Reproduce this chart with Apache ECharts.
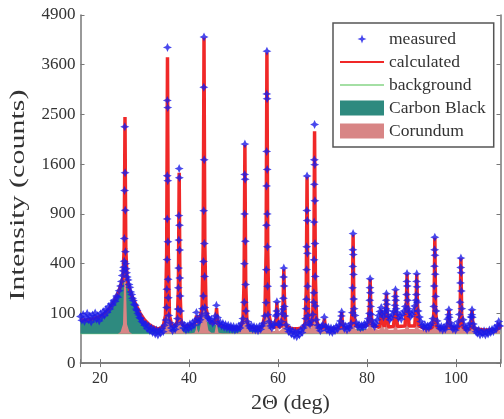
<!DOCTYPE html>
<html><head><meta charset="utf-8">
<script src="https://cdn.jsdelivr.net/npm/echarts@6/dist/echarts.min.js"></script>
<style>html,body{margin:0;padding:0;background:#fff}#c{width:504px;height:419px}</style>
</head><body><div id="c"></div>
<script>
// ---- data (2Θ in deg, intensity in counts) ----
const xTicks = [20, 40, 60, 80, 100];
const yTickCounts = [0, 100, 400, 900, 1600, 2500, 3600, 4900];
const backgroundLevel = 35;
const background = [[15.6, 35], [110, 35]];

// Carbon Black contribution above background
const carbonBlack = [[15.6,40],[17,41],[18.5,45],[20,53],[21,65],[22,85],[23,115],[24,160],[24.8,215],[25.5,255],[26.2,217],[27,155],[28,105],[29,65],[30,40],[31,25],[32,17],[33,12],[34,10],[36,11],[38,15],[40,20],[41.5,25],[42.5,31],[43.5,35],[44.5,33],[45.5,27],[47,20],[49,15],[51,12],[54,9],[58,7],[65,5],[72,5],[76,6],[77.5,11],[79,13],[81,11],[83,6],[85,5],[95,5],[110,4]];

// Corundum contribution above background
const corundum = [[15.6,0],[24.0,0],
[24.6,4],[25.15,26],[25.42,259],[25.53,1188],[25.6,2160],[25.67,1188],[25.78,259],[26.05,26],[26.6,4],
[27.2,0],[33.5,0],
[34.15,7],[34.7,45],[34.97,448],[35.08,2054],[35.15,3734],[35.22,2054],[35.33,448],[35.6,45],[36.15,7],
[36.78,3],[37.33,17],[37.6,170],[37.71,778],[37.78,1415],[37.85,778],[37.96,170],[38.23,17],[38.78,3],
[39.5,1],[40.5,1],
[41.23,2],[41.53,11],[41.68,30],[41.83,11],[42.13,2],
[42.36,8],[42.91,51],[43.18,505],[43.29,2316],[43.36,4211],[43.43,2316],[43.54,505],[43.81,51],[44.36,8],
[45.0,2],[45.73,2],[46.03,21],[46.18,61],[46.33,21],[46.63,2],
[47.5,1],[50.5,1],
[51.55,4],[52.1,23],[52.37,225],[52.48,1033],[52.55,1879],[52.62,1033],[52.73,225],[53.0,23],[53.55,4],
[55,3],[56,5],
[56.5,8],[57.05,46],[57.32,463],[57.43,2121],[57.5,3857],[57.57,2121],[57.68,463],[57.95,46],[58.5,8],
[59.29,6],[59.59,36],[59.74,102],[59.89,36],[60.19,6],
[60.85,12],[61.15,110],[61.3,307],[61.45,110],[61.75,12],
[63,6],[64.5,6],
[65.52,8],[66.07,20],[66.34,163],[66.45,747],[66.52,1358],[66.59,747],[66.7,163],[66.97,20],[67.4,14],
[67.76,30],[68.03,259],[68.14,1170],[68.21,2128],[68.28,1170],[68.39,259],[68.66,30],[69.21,8],
[69.97,7],[70.27,18],[70.42,38],[70.57,18],[70.87,7],
[72,7],
[73.85,8],[74.15,26],[74.3,63],[74.45,26],[74.75,8],
[75.87,7],[76.42,14],[76.69,80],[76.8,345],[76.87,621],[76.94,345],[77.05,80],[77.32,14],[77.87,7],
[79,7],
[80.25,14],[80.55,89],[80.7,240],[80.85,89],[81.15,14],
[82.76,10],[83.06,30],[83.21,72],[83.36,30],
[83.91,10],[84.21,56],[84.36,150],[84.51,56],[84.81,10],
[85.95,10],[86.25,63],[86.4,170],[86.55,63],[86.85,10],
[88.54,12],[88.84,100],[88.99,278],[89.14,100],[89.44,12],
[90.73,12],[91.03,100],[91.18,276],[91.33,100],[91.63,12],
[93,7],
[94.24,8],[94.79,14],[95.06,77],[95.17,331],[95.24,595],[95.31,331],[95.42,77],[95.69,14],[96.24,8],
[97.95,8],[98.25,30],[98.4,73],[98.55,30],[98.85,8],
[100.1,7],[100.65,12],[100.92,55],[101.03,226],[101.1,405],[101.17,226],[101.28,55],[101.55,12],[102.1,7],
[103.15,7],[103.45,29],[103.6,73],[103.75,29],[104.05,7],
[106,5],[108,5],
[109.15,5],[109.45,12],[109.6,25],[109.75,12],[110,7]];

// Calculated total pattern (counts)
const calculated = [[15.6,75],[17,76],[18.5,80],[20,88],[21,100],[22,120],[23,150],[24,195],
[24.6,240],[25.15,296],[25.42,544],[25.53,1478],[25.6,2450],[25.67,1471],[25.78,534],[26.05,286],[26.6,225],
[27,190],[28,140],[29,100],[30,75],[31,60],[32,52],[33,47],
[34.15,53],[34.7,91],[34.97,494],[35.08,2100],[35.15,3780],[35.22,2100],[35.33,494],[35.6,91],[36.15,55],
[36.78,55],[37.33,68],[37.6,220],[37.71,828],[37.78,1465],[37.85,828],[37.96,220],[38.23,68],[38.78,55],
[39.5,56],[40.5,59],
[41.23,62],[41.53,73],[41.68,92],[41.83,73],[42.13,66],
[42.36,75],[42.91,121],[43.18,576],[43.29,2387],[43.36,4280],[43.43,2387],[43.54,576],[43.81,122],[44.36,78],
[45.0,67],[45.73,64],[46.03,82],[46.18,122],[46.33,82],[46.63,60],
[47.5,56],[49,52],[50.5,50],
[51.55,52],[52.1,71],[52.37,273],[52.48,1081],[52.55,1925],[52.62,1081],[52.73,273],[53.0,71],[53.55,51],
[55,49],[56,48],
[56.5,56],[57.05,94],[57.32,511],[57.43,2169],[57.5,3900],[57.57,2169],[57.68,511],[57.95,94],[58.5,56],
[59.29,51],[59.59,84],[59.74,150],[59.89,84],[60.19,51],
[60.85,57],[61.15,155],[61.3,355],[61.45,155],[61.75,57],
[63,48],[64.5,48],
[65.52,51],[66.07,64],[66.34,211],[66.45,795],[66.52,1405],[66.59,795],[66.7,211],[66.97,64],[67.4,56],
[67.76,74],[68.03,303],[68.14,1218],[68.21,2175],[68.28,1218],[68.39,303],[68.66,74],[69.21,52],
[69.97,49],[70.27,60],[70.42,80],[70.57,60],[70.87,49],
[72,48],
[73.85,50],[74.15,68],[74.3,105],[74.45,68],[74.75,50],
[75.87,50],[76.42,57],[76.69,124],[76.8,389],[76.87,665],[76.94,389],[77.05,124],[77.32,58],[77.87,54],
[79,54],
[80.25,60],[80.55,133],[80.7,285],[80.85,133],[81.15,58],
[82.76,52],[83.06,72],[83.21,115],[83.36,72],
[83.91,53],[84.21,100],[84.36,195],[84.51,100],[84.81,53],
[85.95,54],[86.25,107],[86.4,215],[86.55,107],[86.85,54],
[88.54,56],[88.84,144],[88.99,322],[89.14,144],[89.44,56],
[90.73,56],[91.03,143],[91.18,320],[91.33,143],[91.63,56],
[93,48],
[94.24,48],[94.79,54],[95.06,117],[95.17,371],[95.24,635],[95.31,371],[95.42,117],[95.69,54],[96.24,48],
[97.95,49],[98.25,71],[98.4,115],[98.55,71],[98.85,49],
[100.1,48],[100.65,52],[100.92,95],[101.03,266],[101.1,445],[101.17,266],[101.28,95],[101.55,52],[102.1,47],
[103.15,48],[103.45,70],[103.6,115],[103.75,70],[104.05,48],
[106,45],[108,44],
[109.15,45],[109.45,52],[109.6,66],[109.75,52],[110,47]];

// Measured points (counts)
const measured = [
[15.6,88],[15.9,74],[16.2,96],[16.5,70],[16.8,84],[17.1,100],[17.4,76],[17.7,90],[18.0,68],[18.3,94],[18.6,82],[18.9,102],[19.2,78],[19.5,92],[19.8,72],[20.1,98],[20.4,86],[20.7,108],[21.0,92],[21.3,116],[21.6,104],[21.9,130],[22.2,118],[22.5,142],[22.8,136],[23.1,160],[23.4,154],[23.7,182],[24.0,176],[24.3,212],[24.6,240],[24.8,270],[25.0,310],[25.2,345],[25.3,372],
[25.55,2260],[25.62,1465],[25.5,1205],[25.66,945],[25.46,628],[25.7,502],[25.42,420],[25.76,400],[25.85,360],[25.95,330],[26.1,300],
[26.3,280],[26.5,250],[26.7,232],[26.9,205],[27.1,190],[27.3,170],[27.5,158],[27.7,140],[27.9,135],[28.1,118],[28.3,112],[28.5,100],[28.7,94],[28.9,84],[29.1,80],[29.4,70],[29.7,66],[30.0,58],[30.3,62],[30.6,48],[30.9,55],[31.2,42],[31.5,50],[31.8,38],[32.1,46],[32.4,34],[32.7,44],[33.0,32],[33.3,42],[33.6,36],[33.9,48],[34.2,40],[34.5,58],[34.8,75],
[35.15,4030],[35.12,2790],[35.2,2640],[35.1,1420],[35.22,1346],[35.08,841],[35.25,595],[35.05,433],[35.3,284],[35.0,221],[35.35,173],[34.95,125],[35.45,92],
[35.7,66],[36.0,50],[36.3,42],[36.6,54],[36.9,46],[37.2,60],[37.4,80],
[37.78,1530],[37.82,1390],[37.72,880],[37.85,768],[37.7,612],[37.88,517],[37.65,365],[37.92,293],[37.6,229],[38.0,182],[37.5,118],[38.1,110],
[38.4,66],[38.7,50],[39.0,58],[39.3,44],[39.6,56],[39.9,48],[40.2,62],[40.5,52],[40.8,66],[41.1,58],[41.4,74],[41.65,104],[41.9,80],[42.2,68],[42.5,76],[42.8,92],[43.0,120],
[43.36,4300],[43.32,3077],[43.4,1673],[43.3,940],[43.44,578],[43.25,417],[43.5,304],[43.2,182],[43.55,125],
[43.8,100],[44.1,86],[44.4,80],[44.7,72],[45.0,78],[45.3,64],[45.6,70],[45.9,90],[46.15,135],[46.4,84],[46.7,62],[47.0,68],[47.3,56],[47.6,64],[47.9,52],[48.2,60],[48.5,50],[48.8,58],[49.1,48],[49.4,56],[49.7,46],[50.0,54],[50.3,44],[50.6,52],[50.9,46],[51.2,56],[51.5,50],[51.8,64],[52.1,80],
[52.55,1940],[52.5,1440],[52.6,1366],[52.48,900],[52.65,600],[52.45,400],[52.7,250],[52.4,150],[52.8,110],
[53.1,70],[53.4,56],[53.7,50],[54.0,58],[54.3,46],[54.6,54],[54.9,44],[55.2,52],[55.5,42],[55.8,54],[56.1,46],[56.4,56],[56.7,64],[57.0,90],
[57.5,3935],[57.46,2930],[57.54,2825],[57.44,1812],[57.56,1517],[57.42,1270],[57.58,900],[57.4,768],[57.62,547],[57.36,353],[57.66,239],[57.3,148],[57.75,95],
[58.0,70],[58.3,56],[58.6,50],[58.9,58],[59.2,64],[59.5,90],[59.74,152],[59.7,110],[59.85,96],[60.1,62],[60.4,58],[60.7,70],[60.95,100],
[61.3,365],[61.25,300],[61.36,240],[61.2,170],[61.42,130],[61.1,118],[61.55,90],
[61.8,60],[62.1,48],[62.4,40],[62.7,46],[63.0,34],[63.3,42],[63.6,30],[63.9,40],[64.2,28],[64.5,38],[64.8,32],[65.1,44],[65.4,38],[65.7,50],[66.0,58],[66.2,80],
[66.52,1415],[66.48,941],[66.56,823],[66.45,547],[66.6,487],[66.42,353],[66.65,239],[66.38,165],[66.7,91],[66.3,120],
[66.9,66],[67.2,60],[67.5,72],[67.8,96],
[68.21,2303],[68.17,1673],[68.25,1592],[68.15,1292],[68.28,1066],[68.12,804],[68.3,578],[68.1,431],[68.35,304],[68.05,200],[68.4,132],[68.0,150],
[68.6,76],[68.9,58],[69.2,50],[69.5,42],[69.8,54],[70.1,60],[70.4,85],[70.7,54],[71.0,44],[71.3,52],[71.6,40],[71.9,50],[72.2,38],[72.5,48],[72.8,42],[73.1,54],[73.4,46],[73.7,58],[74.0,72],[74.3,106],[74.25,90],[74.6,62],[74.9,48],[75.2,56],[75.5,44],[75.8,54],[76.1,50],[76.4,64],
[76.87,678],[76.83,520],[76.92,476],[76.8,378],[76.95,318],[76.75,229],[77.0,166],[76.7,103],[77.1,120],
[77.3,92],[77.6,66],[77.9,54],[78.2,60],[78.5,50],[78.8,58],[79.1,52],[79.4,62],[79.7,56],[80.0,66],[80.3,80],
[80.7,288],[80.66,230],[80.75,200],[80.62,160],[80.8,130],[80.55,100],[80.9,96],
[81.1,72],[81.4,60],[81.7,54],[82.0,64],[82.3,76],[82.6,92],[82.9,108],[83.2,125],[83.4,98],[83.7,86],[84.0,104],
[84.36,195],[84.32,160],[84.42,140],[84.28,120],[84.5,112],
[84.8,90],[85.1,76],[85.4,84],[85.7,96],[86.0,108],
[86.4,218],[86.36,180],[86.46,160],[86.3,135],[86.55,120],
[86.8,104],[87.1,82],[87.4,92],[87.7,78],[88.0,96],[88.3,110],[88.6,130],
[88.99,325],[88.95,270],[89.04,240],[88.9,190],[89.1,160],[89.25,120],
[89.5,104],[89.8,88],[90.1,96],[90.4,110],[90.7,132],
[91.18,322],[91.14,270],[91.24,235],[91.1,190],[91.3,150],[91.0,160],
[91.5,110],[91.8,86],[92.1,70],[92.4,58],[92.7,52],[93.0,60],[93.3,48],[93.6,56],[93.9,50],[94.2,58],[94.5,64],[94.8,80],
[95.24,640],[95.2,520],[95.28,470],[95.16,380],[95.32,320],[95.1,240],[95.4,180],[95.0,130],[95.55,110],
[95.8,72],[96.1,56],[96.4,48],[96.7,54],[97.0,44],[97.3,52],[97.6,46],[97.9,60],[98.1,78],
[98.4,115],[98.36,95],[98.46,85],
[98.7,66],[99.0,54],[99.3,46],[99.6,56],[99.9,44],[100.2,54],[100.5,70],[100.75,96],
[101.1,446],[101.06,370],[101.15,330],[101.0,260],[101.2,210],[100.9,150],[101.3,120],
[101.6,76],[101.9,58],[102.2,50],[102.5,44],[102.8,54],[103.1,64],[103.35,86],
[103.6,115],[103.55,95],[103.66,85],
[103.9,62],[104.2,50],[104.5,40],[104.8,36],[105.1,44],[105.4,32],[105.7,40],[106.0,34],[106.3,42],[106.6,32],[106.9,40],[107.2,34],[107.5,44],[107.8,38],[108.1,46],[108.4,40],[108.7,50],[109.0,46],[109.3,58],[109.6,70],[109.9,56]];

// ---- chart ----
const FONT = '"Liberation Serif", "Times New Roman", serif';
const C_MEAS = '#1c1ce8', C_CALC = '#f02828', C_BG = '#86d486', C_CB = '#2e8a7f', C_COR = '#d88585';
const sq = v => Math.sqrt(v);
const toSq = arr => arr.map(p => [p[0], sq(p[1])]);
const onBg = arr => arr.map(p => [p[0], sq(backgroundLevel + p[1])]);
const star = 'path://M0,-5L1.6,-1.6L5,0L1.6,1.6L0,5L-1.6,1.6L-5,0L-1.6,-1.6Z';
const starIcon = 'path://M-22,-7.5M22,7.5M0,-4.5L1.2,-1.2L4.5,0L1.2,1.2L0,4.5L-1.2,1.2L-4.5,0L-1.2,-1.2Z';
const lineIcon = 'path://M0,0M44,15M0,6.4L44,6.4L44,8.6L0,8.6Z';
const thinIcon = 'path://M0,0M44,15M0,6.8L44,6.8L44,8.2L0,8.2Z';
const axisCol = '#777';
const ySqTicks = yTickCounts.map(sq);

const chart = echarts.init(document.getElementById('c'), null, {renderer: 'canvas'});
chart.setOption({
  animation: false,
  backgroundColor: '#fff',
  grid: {left: 80.5, right: 3.5, top: 15, bottom: 51, containLabel: false},
  xAxis: [{
    type: 'value', min: 15.6, max: 110, splitNumber: 5,
    name: '2Θ (deg)', nameLocation: 'middle', nameGap: 27,
    nameTextStyle: {fontFamily: FONT, fontSize: 22, color: '#333'},
    axisLine: {lineStyle: {color: axisCol, width: 1.5}},
    axisTick: {inside: true, length: 4, lineStyle: {color: axisCol}},
    axisLabel: {fontFamily: FONT, fontSize: 16, color: '#333', margin: 8,
      formatter: v => xTicks.indexOf(Math.round(v * 1000) / 1000) >= 0 ? String(v) : ''},
    splitLine: {show: false}
  }, {
    type: 'value', position: 'top', min: 15.6, max: 110, splitNumber: 5,
    axisLine: {lineStyle: {color: axisCol, width: 1.5}},
    axisTick: {inside: true, length: 4, lineStyle: {color: axisCol}},
    axisLabel: {show: false}, splitLine: {show: false}
  }],
  yAxis: [{
    type: 'value', min: ySqTicks[0], max: ySqTicks[ySqTicks.length - 1], interval: 10,
    axisLine: {show: true, lineStyle: {color: axisCol, width: 1.5}},
    axisTick: {show: true, inside: true, length: 4, lineStyle: {color: axisCol}},
    axisLabel: {fontFamily: FONT, fontSize: 17, color: '#333', margin: 5,
      formatter: v => String(Math.round(v * v))},
    splitLine: {show: false}
  }, {
    type: 'value', position: 'right', min: ySqTicks[0], max: ySqTicks[ySqTicks.length - 1], interval: 10,
    axisLine: {show: true, lineStyle: {color: axisCol, width: 1.5}},
    axisTick: {show: true, inside: true, length: 4, lineStyle: {color: axisCol}},
    axisLabel: {show: false}, splitLine: {show: false}
  }],
  graphic: [{
    type: 'text', x: 18.5, y: 195, rotation: Math.PI / 2, scaleX: 1.5, scaleY: 1,
    style: {text: 'Intensity (counts)', font: '20px ' + FONT, fill: '#333', align: 'center', verticalAlign: 'middle'}
  }],
  legend: {
    orient: 'vertical', left: 333, top: 23,
    padding: [7, 8, 7, 7], itemGap: 5, itemWidth: 44, itemHeight: 15,
    backgroundColor: '#fff', borderColor: '#555', borderWidth: 1.5, borderRadius: 0,
    textStyle: {fontFamily: FONT, fontSize: 17.5, color: '#333'},
    data: [
      {name: 'measured', icon: starIcon, itemStyle: {color: C_MEAS, borderWidth: 0}},
      {name: 'calculated', icon: lineIcon, itemStyle: {color: C_CALC, borderWidth: 0}},
      {name: 'background', icon: thinIcon, itemStyle: {color: C_BG, borderWidth: 0}},
      {name: 'Carbon Black', icon: 'rect', itemStyle: {color: C_CB, borderWidth: 0}},
      {name: 'Corundum', icon: 'rect', itemStyle: {color: C_COR, borderWidth: 0}}
    ]
  },
  series: [
    {name: 'background', type: 'line', data: toSq(background), symbol: 'none',
      lineStyle: {color: C_BG, width: 1.2}, itemStyle: {color: C_BG}, z: 1},
    {name: 'Carbon Black', type: 'line', data: onBg(carbonBlack), symbol: 'none',
      lineStyle: {width: 0, color: C_CB}, itemStyle: {color: C_CB},
      areaStyle: {color: C_CB, opacity: 1, origin: sq(backgroundLevel)}, z: 2},
    {name: 'Corundum', type: 'line', data: onBg(corundum), symbol: 'none',
      lineStyle: {width: 0, color: C_COR}, itemStyle: {color: C_COR},
      areaStyle: {color: C_COR, opacity: 1, origin: sq(backgroundLevel)}, z: 3},
    {name: 'calculated', type: 'line', data: toSq(calculated), symbol: 'none',
      lineStyle: {color: C_CALC, width: 3.5}, itemStyle: {color: C_CALC}, z: 4},
    {name: 'measured', type: 'scatter', data: toSq(measured), symbol: star, symbolSize: 9,
      itemStyle: {color: C_MEAS}, z: 5}
  ]
});
</script>
</body></html>
